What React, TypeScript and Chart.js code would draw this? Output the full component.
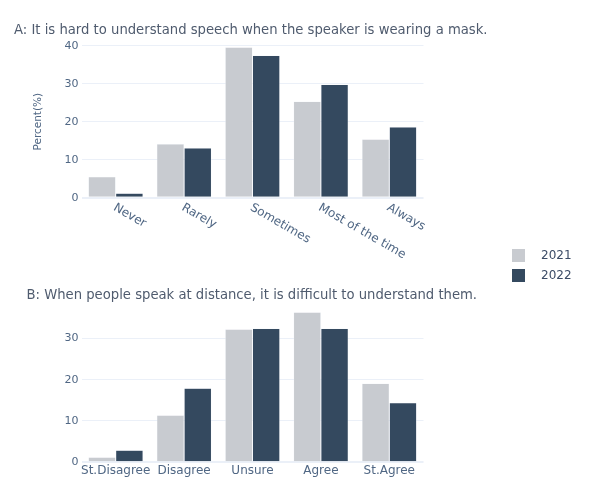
import React, { useEffect, useRef } from "react";
import { Chart, registerables } from "chart.js";

Chart.register(...registerables);

const categoriesA = ["Never", "Rarely", "Sometimes", "Most of the time", "Always"];
const valuesA2021 = [5.5, 14.1, 39.6, 25.3, 15.4];
const valuesA2022 = [1.2, 13.1, 37.4, 29.8, 18.6];

const categoriesB = ["St.Disagree", "Disagree", "Unsure", "Agree", "St.Agree"];
const valuesB2021 = [1.2, 11.4, 32.2, 36.3, 19.1];
const valuesB2022 = [2.9, 17.9, 32.4, 32.4, 14.4];

const seriesNames = ["2021", "2022"];
const seriesColors = ["#c8cbd0", "#34495f"];

const yTicksA = [0, 10, 20, 30, 40];
const yTicksB = [0, 10, 20, 30];

const titleA = "A: It is hard to understand speech when the speaker is wearing a mask.";
const titleB = "B: When people speak at distance, it is difficult to understand them.";
const yTitleA = "Percent(%)";

const FONT = "'DejaVu Sans', Verdana, sans-serif";
const TICK_COLOR = "#506784";
const TITLE_COLOR = "#4f5b6e";
const GRID_COLOR = "#ebf0f8";

const rotatedLabels = {
  id: "rotatedLabels",
  afterDraw(chart: any, _args: any, opts: any) {
    if (!opts || !opts.enabled) return;
    const xs = chart.scales.x;
    const ctx = chart.ctx;
    ctx.save();
    ctx.font = "12px " + FONT;
    ctx.fillStyle = TICK_COLOR;
    ctx.textAlign = "left";
    ctx.textBaseline = "middle";
    (chart.data.labels as string[]).forEach((lab, i) => {
      const x = xs.getPixelForValue(i);
      ctx.save();
      ctx.translate(x - 1.5, chart.chartArea.bottom + 9);
      ctx.rotate(Math.PI / 6);
      ctx.fillText(lab, 0, 0);
      ctx.restore();
    });
    ctx.restore();
  },
};

function makeConfig(
  categories: string[],
  v1: number[],
  v2: number[],
  yMax: number,
  yTicks: number[],
  rotated: boolean,
  padding: any,
  xHeight: number,
  yTitle: string | null
): any {
  return {
    type: "bar",
    data: {
      labels: categories,
      datasets: [
        {
          label: seriesNames[0],
          data: v1,
          backgroundColor: seriesColors[0],
          borderColor: "#eef2f8",
          borderWidth: 0.5,
          categoryPercentage: 0.8,
          barPercentage: 1.0,
        },
        {
          label: seriesNames[1],
          data: v2,
          backgroundColor: seriesColors[1],
          borderColor: "#eef2f8",
          borderWidth: 0.5,
          categoryPercentage: 0.8,
          barPercentage: 1.0,
        },
      ],
    },
    options: {
      responsive: false,
      maintainAspectRatio: false,
      animation: false,
      layout: { padding },
      plugins: {
        legend: { display: false },
        tooltip: { enabled: false },
        title: { display: false },
        rotatedLabels: { enabled: rotated },
      },
      scales: {
        x: {
          afterFit: (s: any) => {
            s.height = xHeight;
          },
          ticks: {
            display: !rotated,
            font: { family: FONT, size: 12 },
            color: TICK_COLOR,
            padding: 1,
            maxRotation: 0,
            minRotation: 0,
            autoSkip: false,
          },
          grid: { display: false, drawTicks: false },
          border: { display: false },
        },
        y: {
          min: 0,
          max: yMax,
          afterFit: (s: any) => {
            s.width = 81.5 - (padding.left || 0);
          },
          afterBuildTicks: (s: any) => {
            s.ticks = yTicks.map((v) => ({ value: v }));
          },
          ticks: {
            font: { family: FONT, size: 11 },
            color: TICK_COLOR,
            padding: 3,
          },
          grid: {
            color: GRID_COLOR,
            lineWidth: (c: any) => (c.tick && c.tick.value === 0 ? 2 : 1),
            drawTicks: false,
          },
          border: { display: false },
          title: {
            display: !!yTitle,
            text: yTitle || "",
            font: { family: FONT, size: 10.5 },
            color: TICK_COLOR,
            padding: { top: 31.7, bottom: 0 },
          },
        },
      },
    },
    plugins: [rotatedLabels],
  };
}

export default function App() {
  const refA = useRef<HTMLCanvasElement | null>(null);
  const refB = useRef<HTMLCanvasElement | null>(null);

  useEffect(() => {
    const chartA = new Chart(
      refA.current as HTMLCanvasElement,
      makeConfig(
        categoriesA,
        valuesA2021,
        valuesA2022,
        40,
        yTicksA,
        true,
        { left: 0, top: 45.7, right: 591 - 423.5, bottom: 260 - 197.7 },
        0,
        yTitleA
      )
    );
    const chartB = new Chart(
      refB.current as HTMLCanvasElement,
      makeConfig(
        categoriesB,
        valuesB2021,
        valuesB2022,
        38.2,
        yTicksB,
        false,
        { left: 0, top: 304.5 - 280, right: 591 - 423.5, bottom: 222 - (462.3 - 280) - 26 },
        26,
        null
      )
    );
    return () => {
      chartA.destroy();
      chartB.destroy();
    };
  }, []);

  return (
    <div
      style={{
        position: "absolute",
        left: 0,
        top: 0,
        width: 591,
        height: 502,
        background: "#ffffff",
        fontFamily: FONT,
        overflow: "hidden",
      }}
    >
      <canvas
        ref={refA}
        width={591}
        height={260}
        style={{ position: "absolute", left: 0, top: 0, width: 591, height: 260 }}
      />
      <canvas
        ref={refB}
        width={591}
        height={222}
        style={{ position: "absolute", left: 0, top: 280, width: 591, height: 222 }}
      />
      <div
        style={{
          position: "absolute",
          left: 14,
          top: 22,
          fontSize: 13.2,
          lineHeight: "16px",
          color: TITLE_COLOR,
          whiteSpace: "nowrap",
        }}
      >
        {titleA}
      </div>
      <div
        style={{
          position: "absolute",
          left: 26.5,
          top: 287,
          fontSize: 13.2,
          lineHeight: "16px",
          color: TITLE_COLOR,
          whiteSpace: "nowrap",
        }}
      >
        {titleB}
      </div>
      {seriesNames.map((name, i) => (
        <div
          key={name}
          style={{
            position: "absolute",
            left: 512,
            top: 248 + i * 20,
            height: 14,
            display: "flex",
            alignItems: "center",
            whiteSpace: "nowrap",
          }}
        >
          <div style={{ width: 13, height: 13, background: seriesColors[i] }} />
          <div
            style={{
              marginLeft: 16,
              fontSize: 12,
              lineHeight: "14px",
              color: "#3b4b66",
            }}
          >
            {name}
          </div>
        </div>
      ))}
    </div>
  );
}
